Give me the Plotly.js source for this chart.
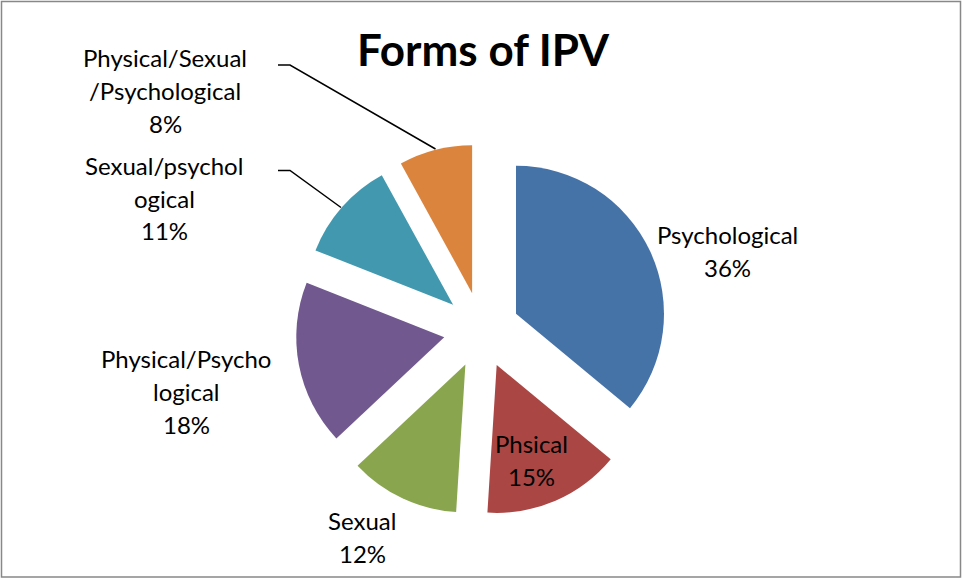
<!DOCTYPE html>
<html>
<head>
<meta charset="utf-8">
<script src="https://cdn.plot.ly/plotly-3.0.1.min.js"></script>
<style>html,body{margin:0;padding:0;background:#fff;}#chart{width:962px;height:579px;}</style>
</head>
<body>
<div id="chart"></div>
<script>
// Data
const categories = ["Psychological", "Phsical", "Sexual", "Physical/Psychological", "Sexual/psychological", "Physical/Sexual/Psychological"];
const values = [36, 15, 12, 18, 11, 8];
const labelLines = [
  ["Psychological", "36%"],
  ["Phsical", "15%"],
  ["Sexual", "12%"],
  ["Physical/Psycho", "logical", "18%"],
  ["Sexual/psychol", "ogical", "11%"],
  ["Physical/Sexual", "/Psychological", "8%"]
];
const colors = ["#4572A7", "#AA4643", "#89A54E", "#71588F", "#4198AF", "#DB843D"];

const W = 962, H = 579;
const FONT = "Lato, 'Open Sans', sans-serif";
// label positions in pixels (center x, first line center y)
const labelPos = [[727, 235], [531, 443], [362, 520], [186, 358], [164, 165], [165, 58]];
const lineGap = 33;

const annotations = [];
labelLines.forEach((lines, i) => {
  lines.forEach((t, j) => {
    annotations.push({
      text: t, showarrow: false, xref: "paper", yref: "paper",
      x: labelPos[i][0] / W, y: 1 - (labelPos[i][1] + j * lineGap) / H,
      xanchor: "center", yanchor: "middle",
      font: {family: FONT, size: 24, color: "#000"}
    });
  });
});

const px = (x) => x / W, py = (y) => 1 - y / H;
const shapes = [
  {type: "rect", xref: "paper", yref: "paper", x0: px(1.5), x1: px(960.5), y0: py(577), y1: py(1.5), line: {color: "#888", width: 1.5}},
  {type: "path", xref: "paper", yref: "paper", path: `M ${px(278)} ${py(65)} L ${px(290)} ${py(65)} L ${px(435.5)} ${py(149)}`, line: {color: "#000", width: 1.5}},
  {type: "path", xref: "paper", yref: "paper", path: `M ${px(278)} ${py(170.5)} L ${px(290)} ${py(170.5)} L ${px(341)} ${py(207.5)}`, line: {color: "#000", width: 1.5}}
];

const cx = 481.6, cy = 330, half = 186;
const trace = {
  type: "pie",
  labels: categories,
  values: values,
  sort: false,
  direction: "clockwise",
  rotation: 0,
  pull: values.map(() => 0.257),
  marker: {colors: colors, line: {width: 0}},
  textinfo: "none",
  hoverinfo: "label+percent",
  showlegend: false,
  domain: {x: [px(cx - half), px(cx + half)], y: [py(cy + half), py(cy - half)]}
};

const layout = {
  width: W, height: H,
  margin: {l: 0, r: 0, t: 0, b: 0},
  paper_bgcolor: "#fff",
  title: {text: "<b>Forms of IPV</b>", x: 483 / W, xanchor: "center", y: 1 - 51 / H, yanchor: "middle", yref: "container",
          font: {family: FONT, size: 44, color: "#000"}},
  annotations: annotations,
  shapes: shapes,
  showlegend: false
};

Plotly.newPlot("chart", [trace], layout, {displayModeBar: false, staticPlot: true});
</script>
</body>
</html>
